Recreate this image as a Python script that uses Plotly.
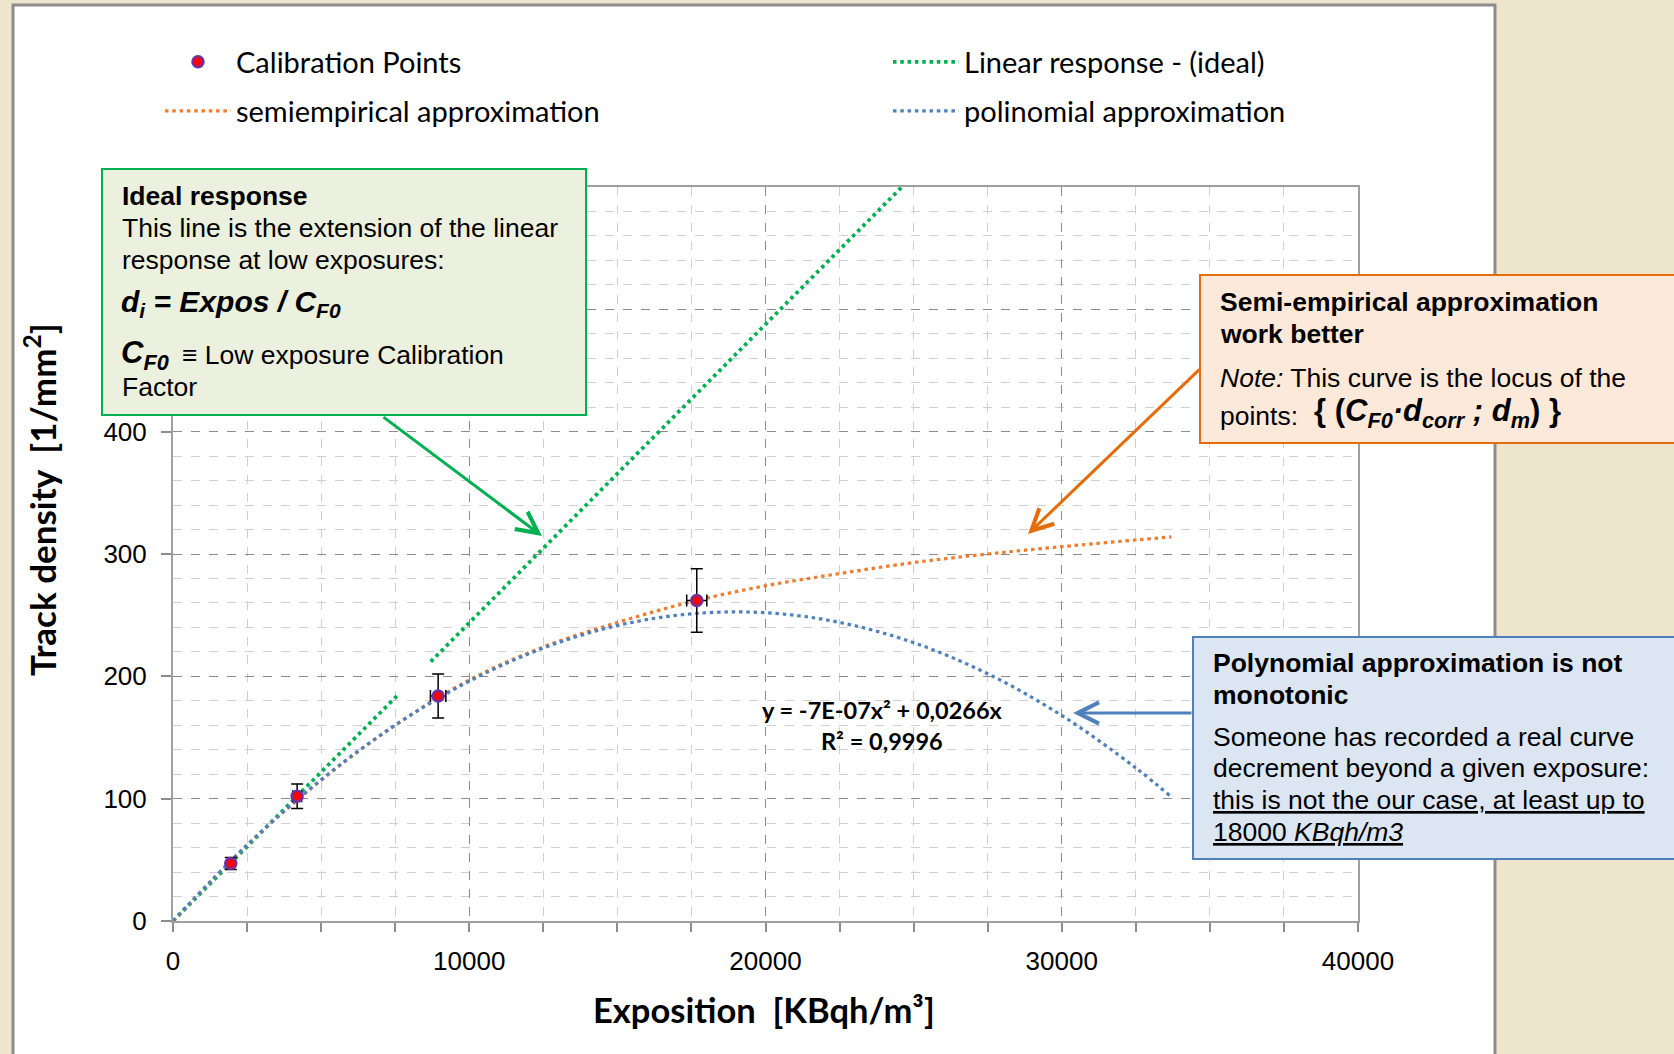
import plotly.graph_objects as go

# ---------------- data ----------------
calib_x = [1950, 4190, 8950, 17680]
calib_y = [47, 102, 184, 262]
calib_xerr = [80, 150, 260, 340]
calib_yerr = [5, 10, 18, 26]

linear_x = [0, 7600, None, 8700, 24600]
linear_y = [0, 185, None, 212, 600]

semi_x = [0, 2500, 5000, 7500, 10000, 12500, 15000, 17500, 20000, 22500, 25000, 27500, 30000, 33700]
semi_y = [0, 62, 115, 160, 197, 224, 244, 261, 274, 284, 293, 300, 306, 314]

poly_x = [0, 2500, 5000, 7500, 10000, 12500, 15000, 17500, 20000, 22500, 25000, 27500, 30000, 32500, 33700]
poly_y = [0, 62.1, 115.5, 160.1, 196, 223.1, 241.5, 251.1, 252, 244.1, 227.5, 202.1, 168, 125.1, 101.4]

x_ticks = [0, 10000, 20000, 30000, 40000]
x_ticklabels = ["0", "10000", "20000", "30000", "40000"]
y_ticks = [0, 100, 200, 300, 400, 500, 600]
y_ticklabels = ["0", "100", "200", "300", "400", "", ""]   # 500/600 hidden behind the note box

series_names = ["Calibration Points", "Linear response - (ideal)",
                "semiempirical approximation", "polinomial approximation"]

# ---------------- layout geometry (pixels) ----------------
FW, FH = 1674, 1054
L, R, T, B = 173, 1358, 187, 921


def px(x):
    return (x - L) / (R - L)


def py(y):
    return (B - y) / (B - T)


GREEN = "#00B050"
ORANGE = "#ED7D31"
BLUE = "#4F81BD"
DOT = "3.5px,3.8px"

fig = go.Figure()

fig.add_trace(go.Scatter(
    x=linear_x, y=linear_y, mode="lines", name=series_names[1],
    line=dict(color=GREEN, width=3.8, dash=DOT), legend="legend2", connectgaps=False))
fig.add_trace(go.Scatter(
    x=semi_x, y=semi_y, mode="lines", name=series_names[2],
    line=dict(color=ORANGE, width=3.2, dash=DOT, shape="spline"), legend="legend3"))
fig.add_trace(go.Scatter(
    x=poly_x, y=poly_y, mode="lines", name=series_names[3],
    line=dict(color=BLUE, width=3.2, dash=DOT, shape="spline"), legend="legend4"))
fig.add_trace(go.Scatter(
    x=calib_x, y=calib_y, mode="markers", name=series_names[0],
    marker=dict(color="#FF0000", size=11, line=dict(color="#7030A0", width=2.5)),
    error_y=dict(type="data", array=calib_yerr, color="black", thickness=1.5, width=6),
    error_x=dict(type="data", array=calib_xerr, color="black", thickness=1.5, width=6),
    legend="legend"))

leg_font = dict(family="Lato", size=29, color="black")


def leg(xpix, ypix):
    return dict(x=px(xpix), y=py(ypix), xanchor="left", yanchor="middle",
                itemwidth=66, font=leg_font, bgcolor="rgba(0,0,0,0)", borderwidth=0)


shapes = []
annotations = []

# white chart frame
shapes.append(dict(type="rect", xref="paper", yref="paper", layer="below",
                   x0=px(13), x1=px(1495), y0=py(1080), y1=py(5),
                   fillcolor="white", line=dict(color="#8C8C8C", width=3)))

# annotation boxes
shapes.append(dict(type="rect", xref="paper", yref="paper", layer="above",
                   x0=px(102), x1=px(586), y0=py(415), y1=py(169),
                   fillcolor="#EBF1DE", line=dict(color=GREEN, width=2)))
shapes.append(dict(type="rect", xref="paper", yref="paper", layer="above",
                   x0=px(1200), x1=px(1700), y0=py(443), y1=py(275),
                   fillcolor="#FDE9D9", line=dict(color="#E46C0A", width=2)))
shapes.append(dict(type="rect", xref="paper", yref="paper", layer="above",
                   x0=px(1193), x1=px(1700), y0=py(859), y1=py(637),
                   fillcolor="#DCE6F2", line=dict(color=BLUE, width=2)))

BOX = 26.5


def txt(x, y, text, size=BOX, family="Liberation Sans", xanchor="left", angle=0):
    annotations.append(dict(x=px(x), y=py(y), xref="paper", yref="paper", text=text,
                            showarrow=False, xanchor=xanchor, yanchor="middle",
                            textangle=angle, borderpad=0,
                            font=dict(family=family, size=size, color="black")))


def arrow(x_tail, y_tail, x_tip, y_tip, color):
    annotations.append(dict(x=px(x_tip), y=py(y_tip), xref="paper", yref="paper",
                            ax=x_tail - x_tip, ay=y_tail - y_tip, axref="pixel", ayref="pixel",
                            text="", showarrow=True, arrowhead=5, arrowsize=1.4,
                            arrowwidth=3, arrowcolor=color))


# green box text
txt(121, 196, "<b>Ideal response</b>")
txt(121, 228, "This line is the extension of the linear")
txt(121, 260, "response at low exposures:")
txt(120, 303, "<b><i>d<sub>i</sub> = Expos / C<sub>F0</sub></i></b>", size=30)
txt(120, 355, "<b><i>C<sub>F0</sub></i></b>", size=31)
txt(181, 355, "\u2261 Low exposure Calibration")
txt(121, 387, "Factor")

# orange box text
txt(1219, 302, "<b>Semi-empirical approximation</b>")
txt(1219, 334, "<b>work better</b>")
txt(1219, 378, "<i>Note:</i> This curve is the locus of the")
txt(1219, 416, "points:")
txt(1313, 413, "<b>{ (<i>C<sub>F0</sub>\u00b7d<sub>corr</sub> ; d<sub>m</sub></i>) }</b>", size=31)

# blue box text
txt(1212, 663, "<b>Polynomial approximation is not</b>")
txt(1212, 695, "<b>monotonic</b>")
txt(1212, 737, "Someone has recorded a real curve")
txt(1212, 768, "decrement beyond a given exposure:")
txt(1212, 800, "<u>this is not the our case, at least up to</u>")
txt(1212, 832, "<u>18000 <i>KBqh/m3</i></u>")

# trendline equation
txt(882, 710, "<b>y = -7E-07x\u00b2 + 0,0266x</b>", size=23.5, family="Lato", xanchor="center")
txt(882, 741, "<b>R\u00b2 = 0,9996</b>", size=23.5, family="Lato", xanchor="center")

# axis titles
txt(764, 1009, "<b>Exposition  [KBqh/m\u00b3]</b>", size=34.5, family="Lato", xanchor="center")
txt(40, 500, "<b>Track density  [1/mm<sup>2</sup>]</b>", size=35, family="Lato",
    xanchor="center", angle=-90)

# arrows
arrow(382, 416, 542, 536, GREEN)
arrow(1201, 368, 1028, 534, "#E46C0A")
arrow(1193, 713, 1073, 713, BLUE)

fig.update_layout(
    width=FW, height=FH,
    margin=dict(l=L, r=FW - R, t=T, b=FH - B, pad=0),
    paper_bgcolor="#EEE5CD", plot_bgcolor="white",
    showlegend=True,
    legend=leg(160, 62), legend2=leg(888, 62), legend3=leg(160, 111), legend4=leg(888, 111),
    shapes=shapes, annotations=annotations,
    xaxis=dict(range=[0, 40000], tickvals=x_ticks, ticktext=x_ticklabels,
               ticks="outside", ticklen=9, tickwidth=1.5,
               tickcolor="#8C8C8C", showline=True, linecolor="#A0A0A0", linewidth=2, mirror=True,
               showgrid=True, gridcolor="#8C8C8C", griddash="dash", gridwidth=1,
               zeroline=False, ticklabelstandoff=7,
               tickfont=dict(family="Liberation Sans", size=26, color="black"),
               minor=dict(dtick=2500, tick0=0, ticks="outside", ticklen=9, tickcolor="#8C8C8C",
                          showgrid=True, gridcolor="#D0D0D0", griddash="dash", gridwidth=1)),
    yaxis=dict(range=[0, 600], tickvals=y_ticks, ticktext=y_ticklabels,
               ticks="outside", ticklen=10, tickwidth=1.5,
               tickcolor="#8C8C8C", showline=True, linecolor="#A0A0A0", linewidth=2, mirror=True,
               showgrid=True, gridcolor="#8C8C8C", griddash="dash", gridwidth=1,
               zeroline=False, ticklabelstandoff=9,
               tickfont=dict(family="Liberation Sans", size=26, color="black"),
               minor=dict(dtick=20, tick0=0, ticks="", showgrid=True,
                          gridcolor="#D0D0D0", griddash="dash", gridwidth=1)),
)

fig.write_html("out.html")
